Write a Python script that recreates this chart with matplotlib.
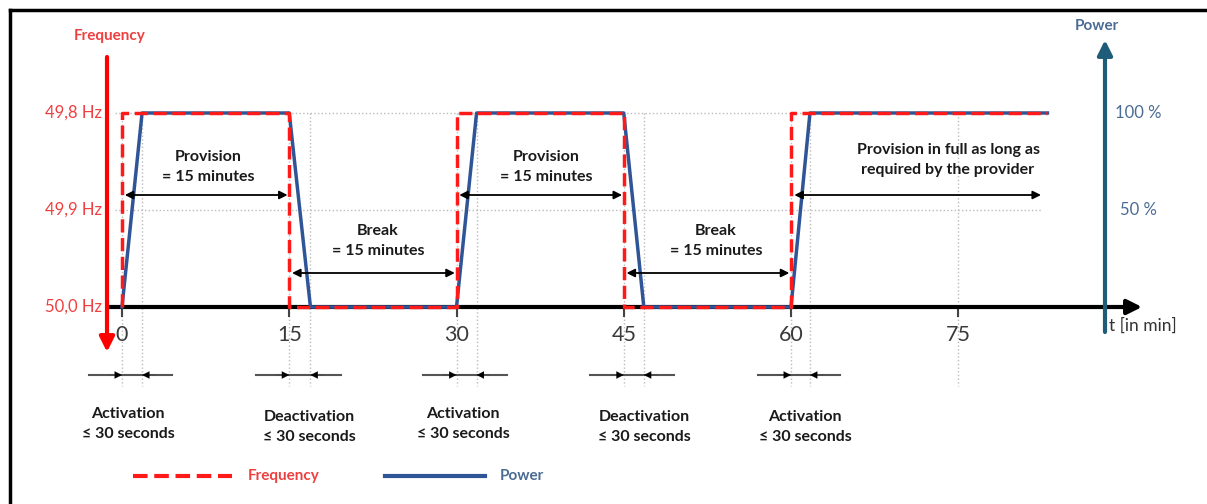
import numpy as np
import matplotlib.pyplot as plt

plt.rcParams['font.family'] = ['Lato', 'DejaVu Sans']

# ===============================
# Data
# ===============================

# frequency steps between 50,0 Hz and 49,8 Hz (minutes)
freq_t = [0, 0, 15, 15, 30, 30, 45, 45, 60, 60, 83]
freq_hz = [50.0, 49.8, 49.8, 50.0, 50.0, 49.8, 49.8, 50.0, 50.0, 49.8, 49.8]

# power ramps (minutes, percent)
power_t = [0, 1.8, 15, 16.9, 30, 31.8, 45, 46.8, 60, 61.7, 83]
power_pct = [0, 100, 100, 0, 0, 100, 100, 0, 0, 100, 100]

x_ticks = [0, 15, 30, 45, 60, 75]
event_t = [0, 15, 30, 45, 60]
ramp_end_t = [1.8, 16.9, 31.8, 46.8, 61.7]
event_labels = ["Activation\n≤ 30 seconds", "Deactivation\n≤ 30 seconds",
                "Activation\n≤ 30 seconds", "Deactivation\n≤ 30 seconds",
                "Activation\n≤ 30 seconds"]

freq_labels = ["49,8 Hz", "49,9 Hz", "50,0 Hz"]
power_labels = ["100 %", "50 %"]
level_pct = [100, 50, 0]

# frequency deviation -> percent of full power
freq_level = [(50.0 - f) / 0.2 * 100 for f in freq_hz]

# ===============================
# Figure set up (pixel calibration)
# ===============================

W, H = 1207, 504
X0, XS = 122, 11.15      # pixel of t=0, pixels per minute
Y0, YS = 307, 1.94       # pixel of 0 %, pixels per percent


def px(x):
    return (x - X0) / XS


def py(y):
    return (Y0 - y) / YS


fig = plt.figure(figsize=(W / 100, H / 100), dpi=100)
ax = fig.add_axes([0, 0, 1, 1])
ax.set_xlim(px(0), px(W))
ax.set_ylim(py(H), py(0))
ax.axis('off')

RED = "#ff1a1a"
RED_TXT = "#ee4040"
BLUE = "#2f5597"
BLUE_TXT = "#4a6b94"
AXBLUE = "#1f5c7a"
GRID = "#bbbbbb"
DARK = "#1a1a1a"

# frame (top and left only)
ax.plot([px(10), px(10)], [py(10), py(H)], color='black', lw=2.5)
ax.plot([px(10), px(W)], [py(10), py(10)], color='black', lw=2.5)

# ===============================
# Grid lines
# ===============================

for lv in [100, 50]:
    ax.plot([px(115), px(1042)], [lv, lv], color=GRID, lw=1, ls=':')

for t in event_t + ramp_end_t + [75]:
    ax.plot([t, t], [100, py(386)], color=GRID, lw=1, ls=':')

# ===============================
# Axes arrows
# ===============================

ax.annotate("", xy=(px(1142), 0), xytext=(px(108), 0),
            arrowprops=dict(arrowstyle='-|>', color='black', lw=3,
                            mutation_scale=22, shrinkA=0, shrinkB=0))
ax.annotate("", xy=(px(107), py(352)), xytext=(px(107), py(57)),
            arrowprops=dict(arrowstyle='-|>', color='#ff0000', lw=3,
                            mutation_scale=22, shrinkA=0, shrinkB=0))
ax.annotate("", xy=(px(1105), py(40)), xytext=(px(1105), py(332)),
            arrowprops=dict(arrowstyle='-|>', color=AXBLUE, lw=3,
                            mutation_scale=22, shrinkA=0, shrinkB=0))

for t in x_ticks:
    ax.plot([t, t], [0, py(316)], color='#444444', lw=1.5)
    ax.text(t, py(335), str(t), ha='center', va='center', fontsize=15.5, color='#3a3a3a')

ax.text(px(1109), py(326), "t [in min]", ha='left', va='center', fontsize=12.5, color='#333333')
ax.text(px(110), py(36), "Frequency", ha='center', va='center', fontsize=11,
        color=RED_TXT, fontweight='bold')
ax.text(px(1097), py(26), "Power", ha='center', va='center', fontsize=11,
        color=BLUE_TXT, fontweight='bold')

for lab, lv in zip(freq_labels, level_pct):
    ax.text(px(102), lv, lab, ha='right', va='center', fontsize=12, color=RED_TXT)
for lab, lv in zip(power_labels, level_pct[:2]):
    ax.text(px(1138), lv, lab, ha='center', va='center', fontsize=12, color=BLUE_TXT)

# ===============================
# Series
# ===============================

ax.plot(power_t, power_pct, color=BLUE, lw=2.5, zorder=3)
ax.plot(freq_t, freq_level, color=RED, lw=2.5, ls=(0, (3.8, 1.6)), zorder=4)

# ===============================
# Duration arrows and labels
# ===============================

arrow_kw = dict(arrowstyle='<|-|>', color='black', lw=1.3, mutation_scale=12,
                shrinkA=0, shrinkB=0)
spans = [(0, 15, py(195)), (15, 30, py(273)), (30, 45, py(195)), (45, 60, py(273))]
for a, b, yy in spans:
    ax.annotate("", xy=(b - 0.15, yy), xytext=(a + 0.25, yy), arrowprops=arrow_kw)
ax.annotate("", xy=(px(1041), py(195)), xytext=(60.3, py(195)), arrowprops=arrow_kw)

txt_kw = dict(ha='center', va='center', fontsize=11.5, color=DARK, fontweight='bold',
              linespacing=1.5)
ax.text(px(208), py(167), "Provision\n= 15 minutes", **txt_kw)
ax.text(px(378), py(241), "Break\n= 15 minutes", **txt_kw)
ax.text(px(546), py(167), "Provision\n= 15 minutes", **txt_kw)
ax.text(px(716), py(241), "Break\n= 15 minutes", **txt_kw)
ax.text(px(948), py(160), "Provision in full as long as\nrequired by the provider", **txt_kw)

# activation / deactivation markers
small_kw = dict(arrowstyle='-|>', color='black', lw=0.1, mutation_scale=13,
                shrinkA=0, shrinkB=0)
label_x = [128, 309, 463, 644, 805]
label_y = [424, 427, 424, 427, 427]
for t0, t1, lab, lx, ly in zip(event_t, ramp_end_t, event_labels, label_x, label_y):
    yy = py(375)
    ax.plot([t0 - 3, t1 + 2.7], [yy, yy], color='#555555', lw=1.5)
    ax.annotate("", xy=(t0, yy), xytext=(t0 - 1.2, yy), arrowprops=small_kw)
    ax.annotate("", xy=(t1, yy), xytext=(t1 + 1.2, yy), arrowprops=small_kw)
    ax.text(px(lx), py(ly), lab, **txt_kw)

# ===============================
# Legend
# ===============================

ax.plot([px(133), px(232)], [py(476), py(476)], color=RED, lw=3, ls=(0, (3.5, 1.6)))
ax.text(px(248), py(476), "Frequency", ha='left', va='center', fontsize=11,
        color=RED_TXT, fontweight='bold')
ax.plot([px(385), px(485)], [py(476), py(476)], color=BLUE, lw=3)
ax.text(px(500), py(476), "Power", ha='left', va='center', fontsize=11,
        color=BLUE_TXT, fontweight='bold')

plt.savefig("out.png", dpi=100)
